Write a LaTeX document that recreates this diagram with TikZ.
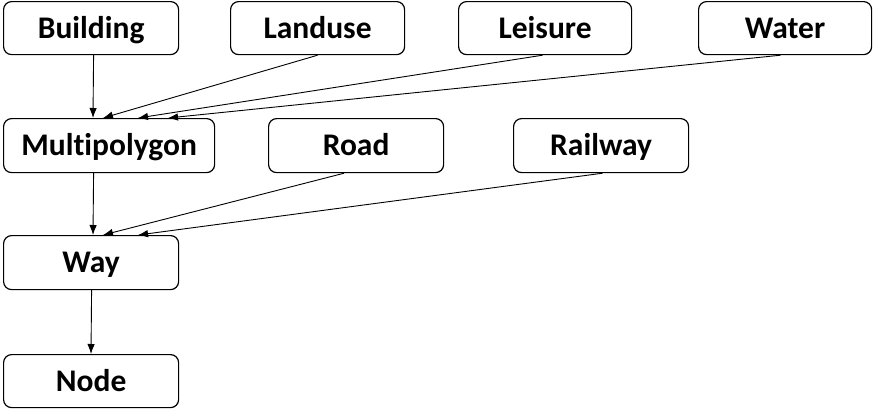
\documentclass[tikz,border=0pt]{standalone}
\usepackage{fontspec}
\setmainfont[Ligatures=NoCommon]{Carlito}
\usetikzlibrary{arrows.meta,positioning}
\begin{document}
\begin{tikzpicture}[x=1pt,y=-1pt,
  box/.style={draw=black,line width=1.2pt,rounded corners=8pt,anchor=north west,
    minimum height=53pt,inner sep=0pt,text height=20pt,text depth=0pt,
    font=\fontsize{31.5}{34}\selectfont\bfseries},
  conn/.style={line width=0.9pt,-{Latex[length=10pt,width=7.5pt]}}]
\useasboundingbox (0,0) rectangle (880,416);
\node[box,minimum width=175pt] (bld) at (3,1) {Building};
\node[box,minimum width=174pt] (lan) at (230,1) {Landuse};
\node[box,minimum width=173pt] (lei) at (458,1) {Leisure};
\node[box,minimum width=173pt] (wat) at (698,1) {Water};
\node[box,minimum width=211pt,minimum height=54pt] (mp) at (3,118) {Multipolygon};
\node[box,minimum width=175pt,minimum height=54pt] (road) at (268,118) {Road};
\node[box,minimum width=175pt,minimum height=54pt] (rail) at (513,118) {Railway};
\node[box,minimum width=175pt,minimum height=54pt] (way) at (3,235) {Way};
\node[box,minimum width=175pt] (nd) at (3,354) {Node};
\draw[conn] ([xshift=2.5pt]bld.south) -- ([xshift=90pt]mp.north west);
\draw[conn] (lan.south) -- ([xshift=100pt]mp.north west);
\draw[conn] ([xshift=-2.5pt]lei.south) -- ([xshift=135pt]mp.north west);
\draw[conn] ([xshift=-4.5pt]wat.south) -- ([xshift=165pt]mp.north west);
\draw[conn] ([xshift=-15.5pt]mp.south) -- ([xshift=90pt]way.north west);
\draw[conn] ([xshift=-12pt]road.south) -- ([xshift=100pt]way.north west);
\draw[conn] ([xshift=1.5pt]rail.south) -- ([xshift=135pt]way.north west);
\draw[conn] ([xshift=0.5pt]way.south) -- ([xshift=88pt]nd.north west);
\end{tikzpicture}
\end{document}
